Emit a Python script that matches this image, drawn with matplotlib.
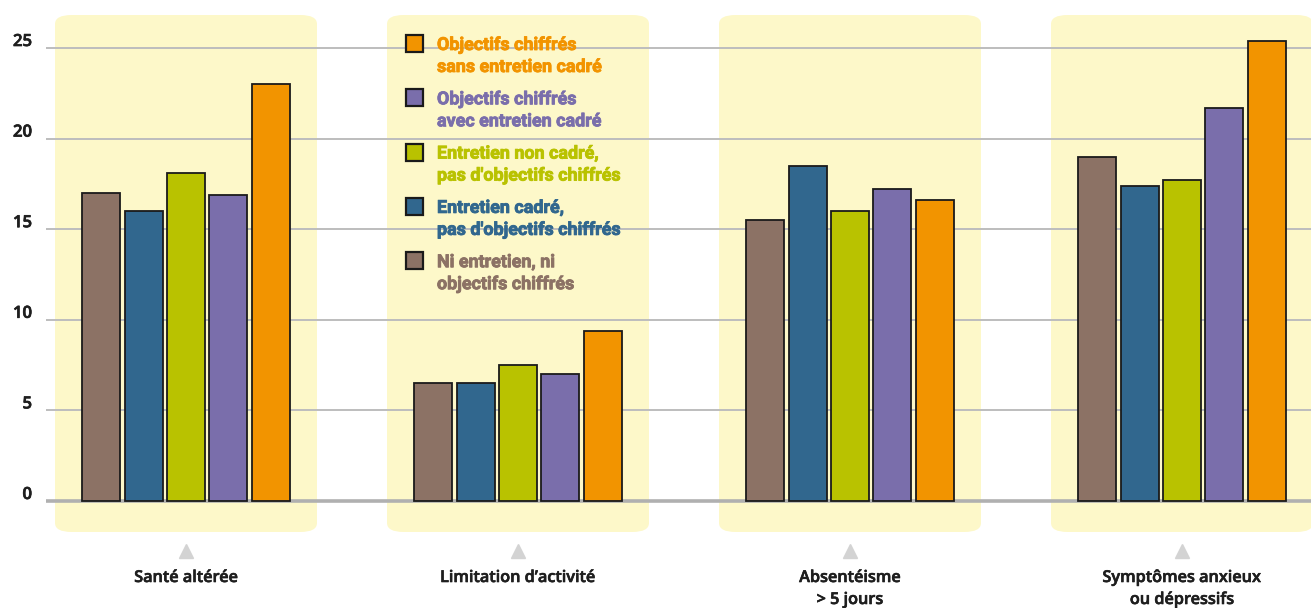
import matplotlib
matplotlib.use("Agg")
import matplotlib.pyplot as plt
from matplotlib.patches import Rectangle, FancyBboxPatch
import matplotlib.patheffects as pe
import numpy as np

categories = ["Santé altérée", "Limitation d\u2019activité", "Absentéisme\n> 5 jours",
              "Symptômes anxieux\nou dépressifs"]
series_names = ["Ni entretien, ni\nobjectifs chiffrés",
                "Entretien cadré,\npas d'objectifs chiffrés",
                "Entretien non cadré,\npas d'objectifs chiffrés",
                "Objectifs chiffrés\navec entretien cadré",
                "Objectifs chiffrés\nsans entretien cadré"]
ni_entretien = [17.0, 6.5, 15.5, 19.0]
entretien_cadre = [16.0, 6.5, 18.5, 17.4]
entretien_non_cadre = [18.1, 7.5, 16.0, 17.7]
obj_avec_entretien = [16.9, 7.0, 17.2, 21.7]
obj_sans_entretien = [23.0, 9.4, 16.6, 25.4]
series_values = [ni_entretien, entretien_cadre, entretien_non_cadre,
                 obj_avec_entretien, obj_sans_entretien]
colors = ["#8C7265", "#31678E", "#B9C200", "#7A6EAB", "#F29400"]
yticks = [0, 5, 10, 15, 20, 25]

W, H = 1311, 608
fig = plt.figure(figsize=(W / 100, H / 100), dpi=100)
fig.patch.set_facecolor("white")

px_per_unit_y = 18.12
group_px = 332.0
center0 = 186.0
ax_left_px, ax_right_px = 46, 1311
ax_top_px, ax_bot_px = 0, 545
ax = fig.add_axes([ax_left_px / W, 1 - ax_bot_px / H,
                   (ax_right_px - ax_left_px) / W, (ax_bot_px - ax_top_px) / H])
ax.set_xlim((ax_left_px - center0) / group_px, (ax_right_px - center0) / group_px)
ax.set_ylim(-(ax_bot_px - 501) / px_per_unit_y, (501 - ax_top_px) / px_per_unit_y)
ax.axis("off")

lab_font = "Open Sans"
leg_font = "Roboto"
x = np.arange(len(categories))
bw = 38 / group_px
step = 42.4 / group_px

# yellow background blocks
y_lo = -(532 - 501) / px_per_unit_y
y_hi = (501 - 15) / px_per_unit_y
for i in range(len(categories)):
    ax.add_patch(FancyBboxPatch((i - 131 / group_px, y_lo), 262 / group_px, y_hi - y_lo,
                                boxstyle="round,pad=0,rounding_size=0.05",
                                facecolor="#FDF8C9", edgecolor="none", zorder=0,
                                mutation_aspect=10))

# grid lines and y labels
for t in yticks:
    ax.axhline(t, color="#BDBDBD" if t else "#B0B0B0", lw=1.4 if t else 2.6, zorder=1)
    fig.text(32 / W, 1 - (501 - t * px_per_unit_y - 6) / H, str(t), ha="right", va="center",
             fontsize=12, fontweight="semibold", color="#1E1E1E", family=lab_font,
             path_effects=[pe.withStroke(linewidth=0.5, foreground="#1E1E1E")])

# bars
for k, (vals, c) in enumerate(zip(series_values, colors)):
    ax.bar(x + (k - 2) * step, vals, width=bw, color=c, edgecolor="#1A1A1A",
           linewidth=1.3, zorder=3)

# category labels with triangles
for i, cat in enumerate(categories):
    ax.plot([i], [-(551 - 501) / px_per_unit_y], marker="^", ms=10, color="#D3D3D3",
            clip_on=False, zorder=3)
    for j, ln in enumerate(cat.split("\n")):
        fig.text((center0 + i * group_px) / W, 1 - (578 + 22 * j) / H, ln, ha="center",
                 va="center", fontsize=11.7, fontweight="semibold", color="#1E1E1E",
                 family=lab_font,
                 path_effects=[pe.withStroke(linewidth=0.45, foreground="#1E1E1E")])

# legend (drawn manually, top item = last series)
leg_top = 35
for r, k in enumerate(range(len(series_names) - 1, -1, -1)):
    y0 = leg_top + r * 54.3
    fig.patches.append(Rectangle((406 / W, 1 - (y0 + 17) / H), 17 / W, 17 / H,
                                 transform=fig.transFigure, facecolor=colors[k],
                                 edgecolor="#1A1A1A", lw=1.6, zorder=4))
    for j, ln in enumerate(series_names[k].split("\n")):
        fig.text(437 / W, 1 - (y0 + 10 + 22 * j) / H, ln, ha="left", va="center",
                 fontsize=12.9, fontweight="bold", color=colors[k], family=leg_font,
                 zorder=5, path_effects=[pe.withStroke(linewidth=0.6, foreground=colors[k])])

fig.savefig("out.png", dpi=100, facecolor="white")
